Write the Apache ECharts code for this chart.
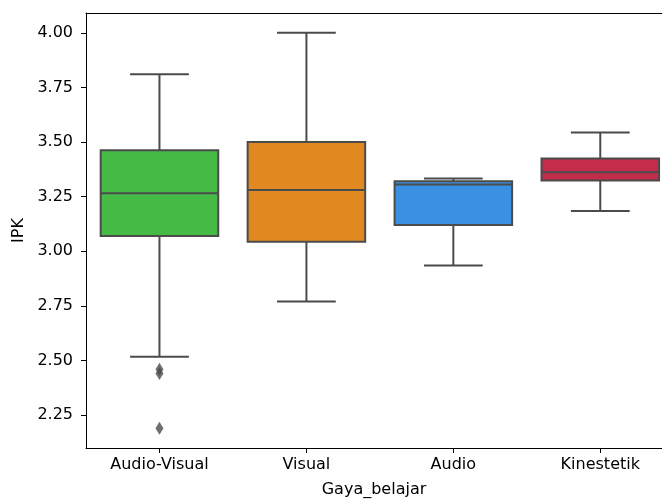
<!DOCTYPE html>
<html><head><meta charset="utf-8">
<script src="https://cdn.jsdelivr.net/npm/echarts@6/dist/echarts.min.js"></script>
<style>html,body{margin:0;padding:0;background:#fff}#c{width:662px;height:503px}</style>
</head><body><div id="c"></div>
<script>
const categories = ['Audio-Visual', 'Visual', 'Audio', 'Kinestetik'];
// [whiskerLow, Q1, median, Q3, whiskerHigh]
const boxStats = [
  [2.517, 3.070, 3.265, 3.462, 3.81],
  [2.77, 3.044, 3.28, 3.50, 4.00],
  [2.935, 3.12, 3.305, 3.32, 3.333],
  [3.184, 3.324, 3.362, 3.425, 3.543]
];
// [category index, value]
const outliers = [
  [0, 2.44],
  [0, 2.46],
  [0, 2.19]
];
const boxColors = ['#45ba45', '#df8920', '#3a90e3', '#c32d4b'];
const yTicks = [2.25, 2.5, 2.75, 3.0, 3.25, 3.5, 3.75, 4.0];
const xRange = [-0.5, 3.42]; // right edge of the picture cuts the axes before 3.5

const lineColor = '#4b4b4b';
const font = 'DejaVu Sans';
const fs = 16;
const chart = echarts.init(document.getElementById('c'), null, {renderer: 'canvas'});
const boxData = boxStats.map((s, i) => [i].concat(s));
const catIdx = categories.map((c, i) => i);

chart.setOption({
  animation: false,
  grid: {left: 86, right: 0, top: 13, bottom: 51},
  xAxis: [{
    type: 'value', min: xRange[0], max: xRange[1], position: 'bottom',
    axisLine: {show: true, onZero: false, lineStyle: {color: '#000', width: 1}},
    axisTick: {show: true, length: 5, customValues: catIdx, lineStyle: {color: '#000'}},
    axisLabel: {color: '#000', fontFamily: font, fontSize: fs, margin: 9,
      customValues: catIdx, formatter: v => categories[Math.round(v)]},
    name: 'Gaya_belajar', nameLocation: 'middle', nameGap: 34,
    nameTextStyle: {color: '#000', fontFamily: font, fontSize: fs},
    splitLine: {show: false}
  }, {
    type: 'value', min: xRange[0], max: xRange[1], position: 'top',
    axisLine: {show: true, onZero: false, lineStyle: {color: '#000', width: 1}},
    axisTick: {show: false}, axisLabel: {show: false}, splitLine: {show: false}
  }],
  yAxis: {
    type: 'value', min: 2.0995, max: 4.0905, position: 'left',
    axisLine: {show: true, onZero: false, lineStyle: {color: '#000', width: 1}},
    axisTick: {show: true, length: 5, customValues: yTicks, lineStyle: {color: '#000'}},
    axisLabel: {color: '#000', fontFamily: font, fontSize: fs, margin: 13,
      customValues: yTicks, formatter: v => v.toFixed(2)},
    splitLine: {show: false},
    name: 'IPK', nameLocation: 'middle', nameGap: 56, nameRotate: 90,
    nameTextStyle: {color: '#000', fontFamily: font, fontSize: fs}
  },
  series: [
    {
      type: 'custom',
      xAxisIndex: 0,
      data: boxData,
      encode: {x: 0, y: [1, 2, 3, 4, 5]},
      renderItem: function (params, api) {
        const idx = api.value(0);
        const bw = api.size([1, 0])[0];
        const hw = bw * 0.4, cw = bw * 0.2;
        const p = k => api.coord([idx, api.value(k)]);
        const lo = p(1), q1 = p(2), md = p(3), q3 = p(4), hi = p(5);
        const cx = lo[0];
        const ls = {stroke: lineColor, lineWidth: 2, fill: null};
        return {
          type: 'group',
          children: [
            {type: 'line', shape: {x1: cx, y1: q1[1], x2: cx, y2: lo[1]}, style: ls},
            {type: 'line', shape: {x1: cx, y1: q3[1], x2: cx, y2: hi[1]}, style: ls},
            {type: 'line', shape: {x1: cx - cw, y1: lo[1], x2: cx + cw, y2: lo[1]}, style: ls},
            {type: 'line', shape: {x1: cx - cw, y1: hi[1], x2: cx + cw, y2: hi[1]}, style: ls},
            {type: 'rect', shape: {x: cx - hw, y: q3[1], width: 2 * hw, height: q1[1] - q3[1]},
              style: {fill: boxColors[idx], stroke: lineColor, lineWidth: 2}},
            {type: 'line', shape: {x1: cx - hw, y1: md[1], x2: cx + hw, y2: md[1]}, style: ls}
          ]
        };
      },
      z: 2
    },
    {
      type: 'scatter',
      xAxisIndex: 0,
      data: outliers,
      symbol: 'diamond',
      symbolSize: [8, 13],
      itemStyle: {color: lineColor},
      z: 3
    }
  ]
});
</script></body></html>
